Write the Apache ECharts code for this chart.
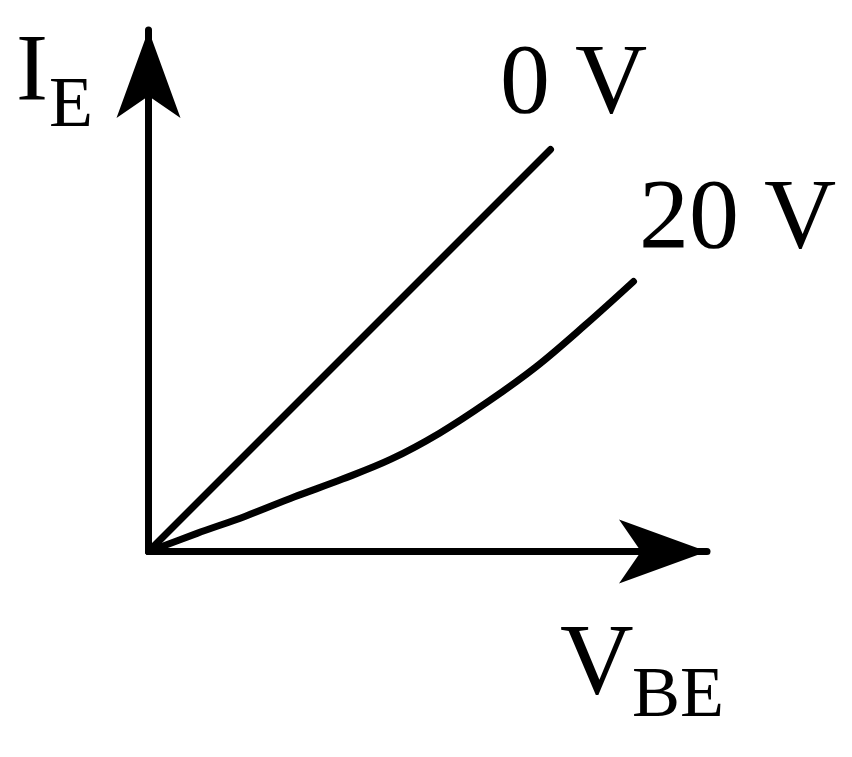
<!DOCTYPE html>
<html>
<head>
<meta charset="utf-8">
<script src="https://cdn.jsdelivr.net/npm/echarts@6/dist/echarts.min.js"></script>
<style>
html,body{margin:0;padding:0;background:#fff;}
#chart{width:852px;height:757px;}
</style>
</head>
<body>
<div id="chart"></div>
<script>
// Schematic characteristic (arbitrary units)
const seriesNames = ['0 V', '20 V'];
const curve0V = [[0, 0], [4.02, 4.02]];
const curve20Vx = [0, 0.485, 0.97, 1.455, 1.94, 2.425, 2.91, 3.395, 3.88, 4.365, 4.85];
const curve20Vy = [0, 0.181, 0.353, 0.544, 0.724, 0.923, 1.183, 1.498, 1.85, 2.263, 2.70];
const xAxisLabel = ['V', 'BE'];
const yAxisLabel = ['I', 'E'];

const curve20V = curve20Vx.map((x, i) => [x, curve20Vy[i]]);

const FAMILY = 'Liberation Serif';
const chart = echarts.init(document.getElementById('chart'));

function lbl(text, x, baseline, size) {
  return {
    text: text, left: x, top: baseline - 0.795 * size, padding: 0, itemGap: 0,
    textStyle: {fontFamily: FAMILY, fontSize: size, fontWeight: 'normal', color: '#000', lineHeight: size}
  };
}

const axisCommon = {
  type: 'value', min: 0,
  axisLine: {show: true, symbol: ['none', 'arrow'], symbolSize: [48, 88],
    lineStyle: {color: '#000', width: 7, cap: 'round'}},
  axisTick: {show: false}, axisLabel: {show: false}, splitLine: {show: false}
};

const lineStyle = {color: '#000', width: 7, cap: 'round', join: 'round'};

chart.setOption({
  animation: false,
  backgroundColor: '#fff',
  title: [
    lbl(yAxisLabel[0], 16, 103, 96),
    lbl(yAxisLabel[1], 49, 128, 72),
    lbl(seriesNames[0], 500, 115, 100),
    lbl(seriesNames[1], 639, 250, 100),
    lbl(xAxisLabel[0], 560, 697, 102),
    lbl(xAxisLabel[1], 632, 718, 72)
  ],
  grid: {left: 148.5, right: 145, top: 30, bottom: 205.5, outerBoundsMode: 'none', containLabel: false},
  xAxis: Object.assign({}, axisCommon, {max: 5.585}),
  yAxis: Object.assign({}, axisCommon, {max: 5.215}),
  series: [
    {name: seriesNames[0], type: 'line', data: curve0V, showSymbol: false, symbol: 'none', lineStyle: lineStyle},
    {name: seriesNames[1], type: 'line', data: curve20V, smooth: 0.35, showSymbol: false, symbol: 'none', lineStyle: lineStyle}
  ]
});
</script>
</body>
</html>
